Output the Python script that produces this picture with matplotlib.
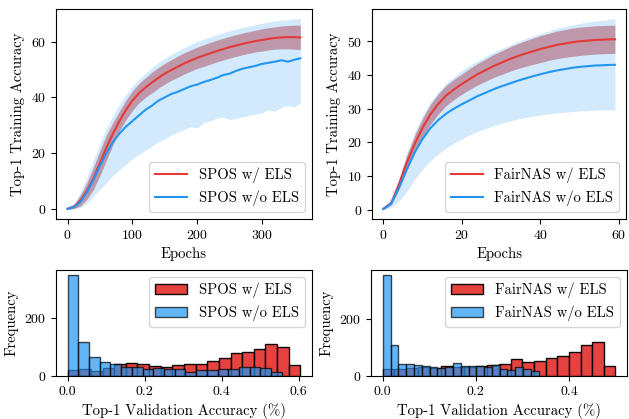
import numpy as np
import matplotlib
matplotlib.use('Agg')
import matplotlib.pyplot as plt

plt.rcParams['font.family'] = 'serif'
plt.rcParams['font.serif'] = ['cmr10', 'DejaVu Serif']
plt.rcParams['axes.formatter.use_mathtext'] = True
plt.rcParams['mathtext.fontset'] = 'cm'
plt.rcParams['axes.unicode_minus'] = False
plt.rcParams['font.size'] = 10
plt.rcParams['axes.labelsize'] = 10.6

RED = '#e53935'
BLUE = '#2196f3'

# ---- SPOS training curves (sampled every 10 epochs) ----
spos_epochs = [0, 10, 20, 30, 40, 50, 60, 70, 80, 90, 100, 110, 120, 130, 140, 150, 160, 170,
               180, 190, 200, 210, 220, 230, 240, 250, 260, 270, 280, 290, 300, 310, 320, 330,
               340, 350, 359]
spos_els_mean = [0, 0.8, 3, 6.5, 11, 16.5, 22, 27, 31.5, 35.5, 38.8, 41.5, 43.5, 45.3, 47, 48.5,
                 49.8, 51, 52.2, 53.2, 54.2, 55, 55.8, 56.6, 57.3, 58, 58.6, 59.2, 59.7, 60.2,
                 60.6, 61, 61.3, 61.5, 61.6, 61.6, 61.5]
spos_els_hw = [0.3, 0.7, 2, 3, 4, 4.5, 4.5, 4, 3.5, 3.5, 3.5, 3.5, 3.5, 3.7, 3.7, 3.7, 3.7, 3.8,
               3.8, 3.8, 3.8, 3.9, 3.9, 3.9, 3.9, 3.9, 3.9, 3.9, 3.9, 3.9, 4, 4, 4, 4.1, 4.2, 4.3, 4.4]
spos_noels_mean = [0, 0.6, 2.5, 6, 10.5, 15.5, 20, 24, 27, 29.5, 31.5, 33.5, 35.5, 37, 38.8, 40,
                   41.2, 42, 43, 44, 44.6, 45.5, 46.2, 47, 48, 48.5, 49.5, 50.3, 50.8, 51.3, 52,
                   52.4, 52.8, 53.3, 52.8, 53.5, 54]
spos_noels_hi = [0.6, 2, 6, 11.5, 17.5, 23.5, 29, 33.5, 37.5, 41, 44, 46.5, 48.7, 50.7, 52.5, 54,
                 55.4, 56.7, 57.9, 59, 60, 60.9, 61.7, 62.5, 63.2, 63.9, 64.5, 65.1, 65.6, 66.1,
                 66.6, 67, 67.4, 67.7, 67.9, 68.1, 68.2]
spos_noels_lo = [0, 0, 0.5, 2, 4.5, 7, 9.5, 12, 14, 16, 18, 19.5, 21, 22.5, 24, 25, 26.5, 27.5,
                 28.5, 29.5, 29, 31, 31.5, 32.5, 33, 32, 32.5, 33, 33.5, 34, 34.5, 35.5, 35, 36.5,
                 37, 36.5, 38]

# ---- FairNAS training curves (sampled every 2 epochs) ----
fair_epochs = [0, 2, 4, 6, 8, 10, 12, 14, 16, 18, 20, 22, 24, 26, 28, 30, 32, 34, 36, 38, 40,
               42, 44, 46, 48, 50, 52, 54, 56, 58, 59]
fair_els_mean = [0.2, 2, 7.5, 14, 19.5, 24.3, 28.3, 31.4, 33.9, 35.7, 37.3, 38.8, 40.2, 41.4,
                 42.6, 43.6, 44.6, 45.5, 46.3, 47, 47.7, 48.3, 48.9, 49.3, 49.7, 50, 50.2, 50.4,
                 50.5, 50.6, 50.6]
fair_els_hw = [0.2, 0.6, 1.5, 2.2, 2.6, 2.8, 3, 3, 3, 3, 3, 3.1, 3.2, 3.3, 3.4, 3.5, 3.6, 3.7,
               3.8, 3.9, 4, 4, 4.1, 4.1, 4.2, 4.2, 4.2, 4.2, 4.2, 4.2, 4.2]
fair_noels_mean = [0.2, 1.8, 6.5, 12, 17, 21, 24.2, 26.6, 28.5, 30, 31.3, 32.5, 33.7, 34.7, 35.7,
                   36.6, 37.4, 38.2, 38.9, 39.6, 40.2, 40.8, 41.3, 41.7, 42.1, 42.4, 42.6, 42.8,
                   42.9, 43, 43]
fair_noels_hi = [0.3, 2.8, 9.5, 17, 23, 28, 32, 35, 37.5, 39.5, 41.3, 42.8, 44.2, 45.5, 46.7, 47.8,
                 48.8, 49.8, 50.7, 51.5, 52.3, 53, 53.7, 54.3, 54.8, 55.3, 55.7, 56, 56.3, 56.6,
                 56.7]
fair_noels_lo = [0, 0.6, 2.5, 5.5, 9, 12, 14.5, 16.5, 18.3, 19.8, 21, 22.2, 23.2, 24.1, 24.9, 25.6,
                 26.2, 26.8, 27.3, 27.7, 28.1, 28.4, 28.7, 28.9, 29.1, 29.3, 29.4, 29.5, 29.6,
                 29.6, 29.6]

# ---- validation accuracy histograms (20 bins each) ----
spos_els_range = (0.0, 0.604)
spos_els_counts = [20, 22, 17, 28, 40, 45, 42, 35, 29, 37, 40, 41, 51, 61, 78, 83, 93, 111, 101, 39]
spos_noels_range = (0.0, 0.556)
spos_noels_counts = [348, 117, 65, 49, 42, 32, 30, 23, 27, 24, 23, 12, 21, 21, 23, 25, 30, 30, 28, 13]

fair_els_range = (0.0, 0.5)
fair_els_counts = [24, 24, 28, 30, 29, 35, 31, 33, 36, 40, 42, 59, 50, 54, 62, 72, 84, 110, 120, 35]
fair_noels_range = (0.0, 0.335)
fair_noels_counts = [358, 110, 41, 41, 37, 36, 30, 28, 31, 44, 36, 35, 36, 32, 37, 26, 20, 32, 23, 17]


def curve_panel(ax, ep, m1, hw1, m2, lo2, hi2, name, xticks):
    ep = np.array(ep)
    m1, hw1 = np.array(m1), np.array(hw1)
    ax.fill_between(ep, lo2, hi2, color=BLUE, alpha=0.2, linewidth=0)
    ax.fill_between(ep, m1 - hw1, m1 + hw1, color='#a01c30', alpha=0.4, linewidth=0)
    ax.plot(ep, m1, color=RED, lw=1.5, label=f'{name} w/ ELS')
    ax.plot(ep, m2, color=BLUE, lw=1.5, label=f'{name} w/o ELS')
    ax.set_xticks(xticks)
    ax.set_xlabel('Epochs')
    ax.set_ylabel('Top-1 Training Accuracy')
    ax.legend(loc='lower right', fontsize=10.5, handlelength=2.2)


def hist_panel(ax, c1, r1, c2, r2, name, xticks):
    e1 = np.linspace(r1[0], r1[1], len(c1) + 1)
    e2 = np.linspace(r2[0], r2[1], len(c2) + 1)
    ax.bar(e1[:-1], c1, width=np.diff(e1), align='edge', color=RED, edgecolor='black',
           linewidth=1, alpha=0.95, label=f'{name} w/ ELS')
    ax.bar(e2[:-1], c2, width=np.diff(e2), align='edge', color=BLUE, edgecolor='black',
           linewidth=1, alpha=0.7, label=f'{name} w/o ELS')
    ax.set_xticks(xticks)
    ax.set_xticklabels([f'{t:.1f}' for t in xticks])
    ax.set_yticks([0, 200])
    ax.set_xlabel('Top-1 Validation Accuracy (%)')
    ax.set_ylabel('Frequency')
    ax.legend(loc='upper right', fontsize=10.5, handlelength=2.2)


fig = plt.figure(figsize=(6.29, 4.19), dpi=100)
ax1 = fig.add_axes([0.089, 0.477, 0.407, 0.501])
ax2 = fig.add_axes([0.591, 0.477, 0.405, 0.501])
ax3 = fig.add_axes([0.089, 0.103, 0.407, 0.253])
ax4 = fig.add_axes([0.590, 0.103, 0.407, 0.253])

curve_panel(ax1, spos_epochs, spos_els_mean, spos_els_hw, spos_noels_mean,
            spos_noels_lo, spos_noels_hi, 'SPOS', [0, 100, 200, 300])
ax1.set_yticks([0, 20, 40, 60])
curve_panel(ax2, fair_epochs, fair_els_mean, fair_els_hw, fair_noels_mean,
            fair_noels_lo, fair_noels_hi, 'FairNAS', [0, 20, 40, 60])
hist_panel(ax3, spos_els_counts, spos_els_range, spos_noels_counts, spos_noels_range,
           'SPOS', [0.0, 0.2, 0.4, 0.6])
hist_panel(ax4, fair_els_counts, fair_els_range, fair_noels_counts, fair_noels_range,
           'FairNAS', [0.0, 0.2, 0.4])

fig.savefig('out.png', dpi=100)
